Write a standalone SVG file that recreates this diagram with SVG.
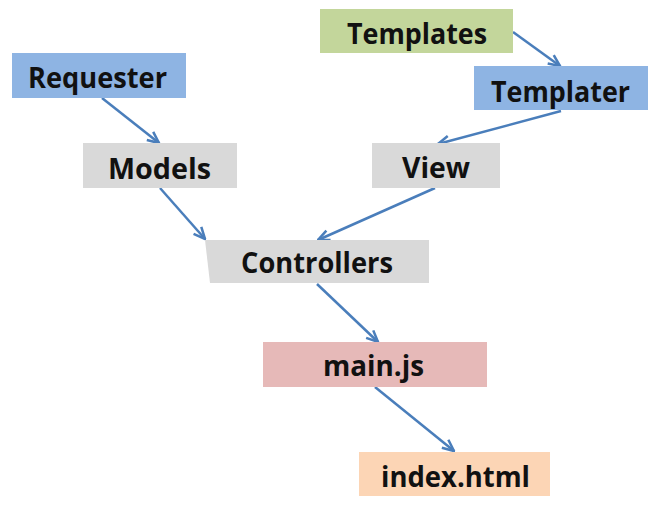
<svg xmlns="http://www.w3.org/2000/svg" width="658" height="511" viewBox="0 0 658 511">
<defs>
<style>
.t{font-family:"Open Sans","Liberation Sans",sans-serif;font-weight:700;font-size:28px;fill:#111;text-anchor:middle}
.c{stroke:#4a7ebb;stroke-width:2.5;fill:none;marker-end:url(#ah)}
.blue{fill:#8eb4e3}.gray{fill:#d9d9d9}.green{fill:#c3d69b}.pink{fill:#e6b9b8}.peach{fill:#fcd5b5}
</style>
<marker id="ah" viewBox="0 0 12 12" refX="11" refY="6" markerWidth="5.5" markerHeight="5.5" markerUnits="strokeWidth" orient="auto">
<path d="M1,1.5 L11,6 L1,10.5" fill="none" stroke="#4a7ebb" stroke-width="2.2"/>
</marker>
</defs>
<rect width="658" height="511" fill="#fff"/>
<g id="connectors">
<line class="c" x1="102" y1="98" x2="159" y2="143"/>
<line class="c" x1="160" y1="188" x2="205" y2="239"/>
<line class="c" x1="513" y1="32" x2="560" y2="66"/>
<line class="c" x1="561" y1="111" x2="438" y2="144"/>
<line class="c" x1="435" y1="188" x2="318" y2="240"/>
<line class="c" x1="317" y1="284" x2="378" y2="342"/>
<line class="c" x1="375" y1="387" x2="454" y2="451"/>
</g>
<g id="requester"><rect class="blue" x="12" y="53" width="174" height="45"/><text class="t" x="97.5" y="88" textLength="139" lengthAdjust="spacingAndGlyphs">Requester</text></g>
<g id="models"><rect class="gray" x="83" y="143" width="154" height="45"/><text class="t" x="159.5" y="179" textLength="103" lengthAdjust="spacingAndGlyphs">Models</text></g>
<g id="templates"><rect class="green" x="320" y="9" width="193" height="44"/><text class="t" x="417" y="44" textLength="140" lengthAdjust="spacingAndGlyphs">Templates</text></g>
<g id="templater"><rect class="blue" x="474" y="66" width="174" height="44"/><text class="t" x="560.5" y="102" textLength="139" lengthAdjust="spacingAndGlyphs">Templater</text></g>
<g id="view"><rect class="gray" x="372" y="143" width="128" height="45"/><text class="t" x="436" y="178" textLength="68" lengthAdjust="spacingAndGlyphs">View</text></g>
<g id="controllers"><path class="gray" d="M205,240 L429,240 L429,283 L210,283 Z"/><text class="t" x="317" y="273" textLength="152" lengthAdjust="spacingAndGlyphs">Controllers</text></g>
<g id="mainjs"><rect class="pink" x="263" y="342" width="224" height="45"/><text class="t" x="373.5" y="376" textLength="101" lengthAdjust="spacingAndGlyphs">main.js</text></g>
<g id="indexhtml"><rect class="peach" x="359" y="452" width="191" height="44"/><text class="t" x="455.5" y="487" textLength="149" lengthAdjust="spacingAndGlyphs">index.html</text></g>
</svg>
